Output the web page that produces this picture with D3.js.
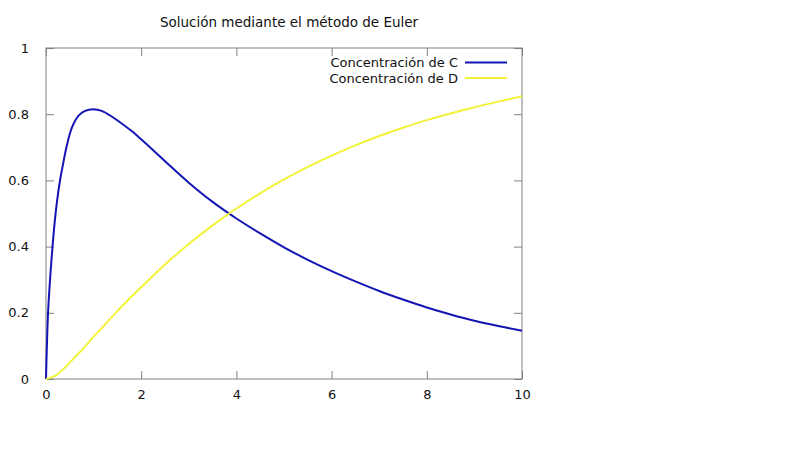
<!DOCTYPE html>
<html><head><meta charset="utf-8">
<script src="https://cdn.jsdelivr.net/npm/d3@7"></script>
<style>body{margin:0;background:#fff;} text{font-family:"DejaVu Sans",sans-serif;}</style>
</head><body>
<svg id="c" width="800" height="449"></svg>
<script>
const title = "Solución mediante el método de Euler";
const seriesNames = ["Concentración de C", "Concentración de D"];
const xTicks = [0, 2, 4, 6, 8, 10];
const yTicks = [0, 0.2, 0.4, 0.6, 0.8, 1];
const yTickLabels = ["0", "0.2", "0.4", "0.6", "0.8", "1"];

const tC = [0, 0.04, 0.08, 0.11, 0.17, 0.23, 0.3, 0.343, 0.434, 0.54, 0.68, 0.82, 0.99, 1.17, 1.38, 1.59, 1.8, 2.0, 2.5, 3.0, 3.5, 4.0, 4.5, 5.0, 5.5, 6.0, 6.5, 7.0, 7.5, 8.0, 8.5, 9.0, 9.5, 10];
const vC = [0, 0.19, 0.29, 0.35, 0.455, 0.535, 0.605, 0.638, 0.703, 0.758, 0.795, 0.81, 0.815, 0.81, 0.793, 0.772, 0.749, 0.724, 0.658, 0.593, 0.535, 0.485, 0.44, 0.398, 0.36, 0.326, 0.295, 0.266, 0.24, 0.216, 0.195, 0.176, 0.16, 0.146];

const tD = [0, 0.2, 0.4, 0.6, 0.8, 1.0, 1.2, 1.4, 1.7, 2.0, 2.5, 3.0, 3.5, 4.0, 4.5, 5.0, 5.5, 6.0, 6.5, 7.0, 7.5, 8.0, 8.5, 9.0, 9.5, 10];
const vD = [0, 0.01, 0.035, 0.065, 0.095, 0.128, 0.158, 0.19, 0.235, 0.277, 0.346, 0.408, 0.464, 0.515, 0.561, 0.603, 0.641, 0.675, 0.706, 0.734, 0.759, 0.782, 0.802, 0.821, 0.838, 0.854];

const colors = ["#1414b4", "#f2f23a"];

const svg = d3.select("#c");
const L = 46, R = 522, T = 48, B = 379;
const x = d3.scaleLinear().domain([0, 10]).range([L, R]);
const y = d3.scaleLinear().domain([0, 1]).range([B, T]);
const gray = "#808080";

// title
svg.append("text").attr("x", 289).attr("y", 27).attr("text-anchor", "middle")
  .attr("font-size", 13.5).attr("fill", "#111").text(title);

// axes with inward ticks
const gx = svg.append("g").attr("transform", `translate(0,${B})`)
  .call(d3.axisBottom(x).tickValues(xTicks).tickSizeInner(-8).tickSizeOuter(0).tickPadding(11).tickFormat(d3.format("d")));
const gxt = svg.append("g").attr("transform", `translate(0,${T})`)
  .call(d3.axisTop(x).tickValues(xTicks).tickSizeInner(-8).tickSizeOuter(0).tickFormat(""));
const gy = svg.append("g").attr("transform", `translate(${L},0)`)
  .call(d3.axisLeft(y).tickValues(yTicks).tickSizeInner(-8).tickSizeOuter(0).tickPadding(17).tickFormat((d, i) => yTickLabels[i]));
const gyr = svg.append("g").attr("transform", `translate(${R},0)`)
  .call(d3.axisRight(y).tickValues(yTicks).tickSizeInner(-8).tickSizeOuter(0).tickFormat(""));
[gx, gxt, gy, gyr].forEach(g => {
  g.selectAll("path.domain").remove();
  g.selectAll("line").attr("stroke", gray);
  g.selectAll("text").attr("font-size", 13).attr("fill", "#111").attr("font-family", "DejaVu Sans, sans-serif");
});
gx.selectAll("text").attr("dy", "0.71em");

// border
svg.append("rect").attr("x", L).attr("y", T).attr("width", R - L).attr("height", B - T)
  .attr("fill", "none").attr("stroke", gray).attr("stroke-width", 1);

const line = d3.line().x(d => x(d[0])).y(d => y(d[1])).curve(d3.curveCatmullRom.alpha(0.5));
const dataC = tC.map((t, i) => [t, vC[i]]);
const dataD = tD.map((t, i) => [t, vD[i]]);

svg.append("path").datum(dataC).attr("d", line).attr("fill", "none").attr("stroke", colors[0]).attr("stroke-width", 2);
svg.append("path").datum(dataD).attr("d", line).attr("fill", "none").attr("stroke", colors[1]).attr("stroke-width", 2);

// legend
const leg = svg.append("g");
seriesNames.forEach((n, i) => {
  const yy = 62.5 + i * 15.5;
  leg.append("text").attr("x", 458).attr("y", yy).attr("dy", "0.35em").attr("text-anchor", "end")
    .attr("font-size", 13).attr("fill", "#111").text(n);
  leg.append("line").attr("x1", 465).attr("x2", 507).attr("y1", yy).attr("y2", yy)
    .attr("stroke", colors[i]).attr("stroke-width", 2);
});
</script>
</body></html>
